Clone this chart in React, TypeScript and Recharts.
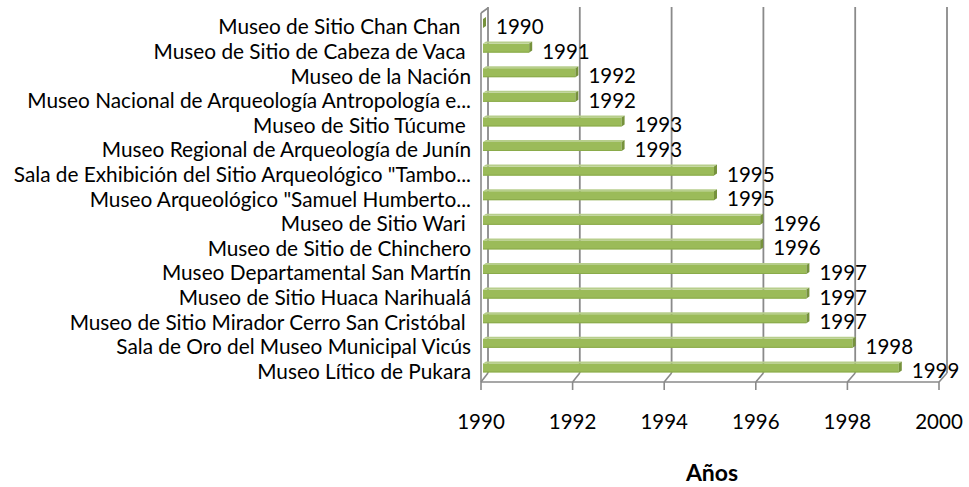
import React from 'react';
import { BarChart, Bar, XAxis, YAxis, CartesianGrid, LabelList } from 'recharts';

const categories = [
  'Museo de Sitio Chan Chan  ',
  'Museo de Sitio de Cabeza de Vaca ',
  'Museo de la Nación',
  'Museo Nacional de Arqueología Antropología e...',
  'Museo de Sitio Túcume ',
  'Museo Regional de Arqueología de Junín',
  'Sala de Exhibición del Sitio Arqueológico "Tambo...',
  'Museo Arqueológico "Samuel Humberto...',
  'Museo de Sitio Wari ',
  'Museo de Sitio de Chinchero',
  'Museo Departamental San Martín',
  'Museo de Sitio Huaca Narihualá',
  'Museo de Sitio Mirador Cerro San Cristóbal ',
  'Sala de Oro del Museo Municipal Vicús',
  'Museo Lítico de Pukara',
];
const years = [1990, 1991, 1992, 1992, 1993, 1993, 1995, 1995, 1996, 1996, 1997, 1997, 1997, 1998, 1999];
const xTicks = [1990, 1992, 1994, 1996, 1998, 2000];
const axisTitle = 'Años';

const data = categories.map((name, i) => ({ name, year: years[i] }));

const FONT = 'Lato, "Open Sans", sans-serif';
const GRID = '#8a8a8a';
const TOP = 10;

const Bar3D = (props: any) => {
  const { x, y, width, height } = props;
  const w = Math.max(0, width);
  const d = 3;
  return (
    <g>
      <rect x={x} y={y + 2} width={w} height={height - 2} fill="#9bbb59" />
      <line x1={x} y1={y + height - 0.5} x2={x + w} y2={y + height - 0.5} stroke="#8aab4a" strokeWidth={1} />
      <polygon points={`${x},${y + 2} ${x + d},${y} ${x + w + d},${y} ${x + w},${y + 2}`} fill="#b7ce8c" />
      <polygon
        points={`${x + w},${y + 2} ${x + w + d},${y} ${x + w + d},${y + height - 2} ${x + w},${y + height}`}
        fill="#76923c"
      />
    </g>
  );
};

const YTick = (props: any) => {
  const { x, y, payload } = props;
  return (
    <text
      x={x}
      y={y + 12}
      textAnchor="end"
      fontFamily={FONT}
      fontSize={20.8}
      fill="#000"
      style={{ whiteSpace: 'pre' }}
    >
      {payload.value}
    </text>
  );
};

const XTick = (props: any) => {
  const { x, y, payload, index, width } = props;
  const n = xTicks.length;
  const step = width ? width / (n - 1) : 92;
  const fx = x - 2 - index * 0.8;
  const fxNext = x + step - 2 - (index + 1) * 0.8;
  const F = y + 3;
  return (
    <g>
      {index < n - 1 && <line x1={fx} y1={F} x2={fxNext} y2={F} stroke={GRID} strokeWidth={1.6} />}
      {index === 0 && (
        <g>
          <line x1={fx} y1={F} x2={fx} y2={TOP + 3} stroke={GRID} strokeWidth={1.6} />
          <line x1={fx} y1={TOP + 3} x2={fx + 7} y2={TOP - 2} stroke={GRID} strokeWidth={1.6} />
        </g>
      )}
      <line x1={fx} y1={F} x2={fx} y2={F + 8} stroke={GRID} strokeWidth={1.6} />
      <text x={fx} y={y + 50} textAnchor="middle" fontFamily={FONT} fontSize={20.5} fill="#000">
        {payload.value}
      </text>
    </g>
  );
};

const GridLine = (p: any) => {
  const { x1, y1, y2, index } = p;
  const bx = x1 + 5 - index * 0.6;
  const fx = x1 - 2 - index * 0.8;
  return (
    <g key={`g-${index}`}>
      <line x1={bx} y1={y1 - 3} x2={bx} y2={y2 - 6} stroke={GRID} strokeWidth={1.8} />
      <line x1={bx} y1={y2 - 6} x2={fx} y2={y2 + 3} stroke={GRID} strokeWidth={1.6} />
    </g>
  );
};

const ValueLabel = (props: any) => {
  const { x, y, width, height, value } = props;
  return (
    <text
      x={x + Math.max(0, width) + 13}
      y={y + height / 2 + 11.5}
      textAnchor="start"
      fontFamily={FONT}
      fontSize={20.5}
      fill="#000"
    >
      {value}
    </text>
  );
};

const TitleLabel = (props: any) => {
  const { viewBox } = props;
  const cx = viewBox.x + viewBox.width / 2;
  const base = viewBox.y + viewBox.height;
  return (
    <text x={cx - 2} y={base + 72} textAnchor="middle" fontFamily={FONT} fontWeight={700} fontSize={23} fill="#000">
      {axisTitle}
    </text>
  );
};

export default function App() {
  return (
    <div style={{ position: 'absolute', left: 0, top: 0, width: 969, height: 487, background: '#fff' }}>
      <BarChart
        width={969}
        height={487}
        data={data}
        layout="vertical"
        margin={{ top: TOP, right: 24, bottom: 78, left: 0 }}
        barCategoryGap={0}
      >
        <CartesianGrid horizontal={false} vertical={GridLine} />
        <XAxis
          type="number"
          domain={[1990, 2000]}
          ticks={xTicks}
          interval={0}
          height={30}
          axisLine={false}
          tickLine={false}
          tickSize={0}
          tickMargin={0}
          tick={<XTick />}
          label={<TitleLabel />}
        />
        <YAxis
          type="category"
          dataKey="name"
          width={483}
          axisLine={false}
          tickLine={false}
          tickSize={0}
          tickMargin={12}
          interval={0}
          tick={<YTick />}
        />
        <Bar dataKey="year" barSize={11} shape={<Bar3D />} isAnimationActive={false}>
          <LabelList dataKey="year" content={<ValueLabel />} />
        </Bar>
      </BarChart>
    </div>
  );
}
